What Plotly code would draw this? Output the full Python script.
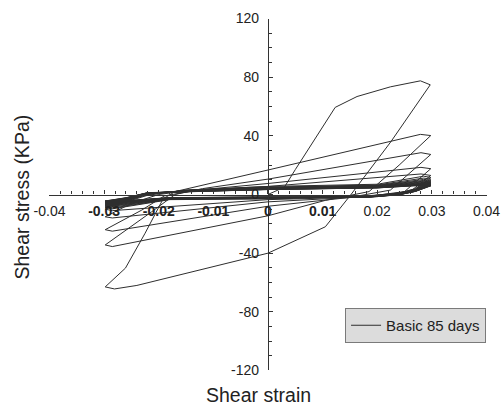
import plotly.graph_objects as go

# Cyclic shear test record: shear strain (-) vs shear stress (kPa)

# initial loading and first full cycle
c1_strain = [0.0000, 0.0030, 0.0050, 0.0123, 0.0163, 0.0224, 0.0279, 0.0297,
             0.0225, 0.0152, 0.0105, 0.0000, -0.0240, -0.0281, -0.0298]
c1_stress = [0.0, 5.0, 17.0, 59.4, 66.8, 73.4, 77.5, 74.8,
             36.0, 0.0, -22.0, -40.0, -62.0, -64.4, -63.0]

# second cycle
c2_strain = [-0.0261, -0.0225, -0.0192, -0.0170, -0.0100, 0.0000, 0.0279, 0.0298,
             0.0240, 0.0185, 0.0105, 0.0000, -0.0285, -0.0298]
c2_stress = [-50.2, -26.4, -3.0, 2.0, 7.9, 16.7, 41.0, 40.2,
             20.0, 2.0, -4.0, -14.5, -35.5, -34.4]

# third cycle
c3_strain = [-0.0213, -0.0170, -0.0120, 0.0000, 0.0280, 0.0298,
             0.0224, 0.0150, 0.0000, -0.0285, -0.0298]
c3_stress = [-11.8, 0.0, 4.0, 10.5, 28.5, 27.3,
             3.0, -2.0, -8.0, -25.0, -24.0]

# fourth cycle
c4_strain = [-0.0231, -0.0190, -0.0130, 0.0000, 0.0280, 0.0298,
             0.0250, 0.0180, 0.0000, -0.0285, -0.0298]
c4_stress = [-10.6, -1.0, 3.0, 7.5, 18.5, 17.6,
             2.0, -1.5, -5.0, -16.0, -15.2]

# fifth cycle
c5_strain = [-0.0250, -0.0200, -0.0140, 0.0000, 0.0280, 0.0298,
             0.0260, 0.0200, 0.0000, -0.0285, -0.0298]
c5_stress = [-6.0, 0.0, 3.0, 5.5, 14.0, 13.0,
             2.0, -1.5, -3.5, -11.0, -10.0]

# later, stabilised cycles (same strain path, decaying stress)
late_strain = [-0.0260, -0.0220, -0.0150, 0.0000, 0.0200, 0.0285, 0.0298,
               0.0270, 0.0240, 0.0180, 0.0000, -0.0180, -0.0285, -0.0298]
c6_stress = [-5.0, -0.5, 3.0, 5.5, 7.0, 12.5, 11.6, 4.0, 1.0, -1.0, -3.0, -3.5, -9.8, -9.0]
c7_stress = [-4.5, 0.0, 3.0, 5.0, 6.5, 11.2, 10.5, 3.8, 1.0, -1.2, -2.8, -3.3, -9.2, -8.5]
c8_stress = [-4.2, 0.2, 2.8, 4.8, 6.2, 10.3, 9.6, 3.5, 0.8, -1.3, -2.6, -3.2, -8.6, -8.0]
c9_stress = [-4.0, 0.3, 2.7, 4.5, 6.0, 9.6, 9.0, 3.3, 0.6, -1.4, -2.5, -3.0, -8.0, -7.5]
c10_stress = [-3.8, 0.5, 2.6, 4.3, 5.8, 9.1, 8.5, 3.1, 0.5, -1.5, -2.4, -2.9, -7.6, -7.0]
c11_stress = [-3.5, 0.6, 2.5, 4.1, 5.6, 8.6, 8.1, 3.0, 0.4, -1.5, -2.3, -2.8, -7.2, -6.6]
c12_stress = [-3.3, 0.7, 2.4, 4.0, 5.4, 8.2, 7.7, 2.8, 0.3, -1.6, -2.2, -2.7, -6.8, -6.2]
c13_stress = [-3.1, 0.8, 2.3, 3.9, 5.2, 7.8, 7.3, 2.7, 0.2, -1.6, -2.1, -2.6, -6.4, -5.8]
c14_stress = [-2.9, 0.9, 2.2, 3.8, 5.0, 7.5, 7.0, 2.6, 0.1, -1.7, -2.0, -2.5, -6.0, -5.4]
c15_stress = [-2.7, 1.0, 2.1, 3.7, 4.9, 7.2, 6.7, 2.5, 0.0, -1.7, -1.9, -2.4, -5.7, -5.1]
c16_stress = [-2.6, 1.1, 2.0, 3.6, 4.8, 7.0, 6.5, 2.4, 0.0, -1.8, -1.9, -2.3, -5.5, -4.9]
c17_stress = [-2.5, 1.1, 2.0, 3.5, 4.7, 6.8, 6.3, 2.3, -0.1, -1.8, -1.8, -2.3, -5.3, -4.7]
c18_stress = [-2.4, 1.2, 1.9, 3.5, 4.6, 6.6, 6.1, 2.2, -0.1, -1.8, -1.8, -2.2, -5.1, -4.5]
c19_stress = [-2.3, 1.2, 1.9, 3.4, 4.5, 6.4, 6.0, 2.2, -0.2, -1.9, -1.7, -2.2, -5.0, -4.4]
c20_stress = [-2.2, 1.3, 1.8, 3.4, 4.5, 6.3, 5.9, 2.1, -0.2, -1.9, -1.7, -2.1, -4.9, -4.3]

x_ticks = [-0.04, -0.03, -0.02, -0.01, 0.0, 0.01, 0.02, 0.03, 0.04]
x_labels = ["-0.04", "<b>-0.03</b>", "<b>-0.02</b>", "<b>-0.01</b>", "<b>0</b>",
            "<b>0.01</b>", "0.02", "0.03", "0.04"]
y_ticks = [-120, -80, -40, 0, 40, 80, 120]
y_labels = ["-120", "-80", "-40", "0", "40", "80", "120"]

strain = c1_strain + c2_strain + c3_strain + c4_strain + c5_strain
stress = c1_stress + c2_stress + c3_stress + c4_stress + c5_stress
for s in [c6_stress, c7_stress, c8_stress, c9_stress, c10_stress,
          c11_stress, c12_stress, c13_stress, c14_stress, c15_stress,
          c16_stress, c17_stress, c18_stress, c19_stress, c20_stress]:
    strain = strain + late_strain
    stress = stress + s

FONT = "Liberation Sans, Arial, Helvetica, sans-serif"
AXIS = "#333333"

fig = go.Figure()
fig.add_trace(go.Scatter(
    x=strain, y=stress, mode="lines", name="Basic 85 days",
    line=dict(color="#2e2e2e", width=1.0),
))

x_dom = [0.0984, 0.9672]
y_dom = [0.0852, 0.9543]

fig.update_layout(
    width=503, height=405,
    margin=dict(l=0, r=0, t=0, b=0),
    paper_bgcolor="white", plot_bgcolor="white",
    font=dict(family=FONT, size=14, color="#222222"),
    showlegend=True,
    legend=dict(
        x=0.686, y=0.2395, xanchor="left", yanchor="top",
        bgcolor="#dcdcdc", bordercolor="#7a7a7a", borderwidth=1,
        font=dict(family=FONT, size=15, color="#222222"),
    ),
    xaxis=dict(
        domain=x_dom, range=[-0.04, 0.04], automargin=False,
        anchor="free", position=sum(y_dom) / 2,
        showgrid=False, zeroline=False,
        showline=True, linecolor=AXIS, linewidth=1.3,
        tickvals=x_ticks, ticktext=x_labels,
        ticks="inside", ticklen=4, tickwidth=1, tickcolor=AXIS,
        ticklabelstandoff=4,
        minor=dict(dtick=0.002, tick0=0, ticks="inside", ticklen=3,
                   tickwidth=1, tickcolor=AXIS, showgrid=False),
        tickfont=dict(size=14, color="#222222"),
    ),
    yaxis=dict(
        domain=y_dom, range=[-120, 120], automargin=False,
        anchor="free", position=sum(x_dom) / 2, side="left",
        showgrid=False, zeroline=False,
        showline=True, linecolor=AXIS, linewidth=1.3,
        tickvals=y_ticks, ticktext=y_labels,
        ticks="inside", ticklen=4, tickwidth=1, tickcolor=AXIS,
        ticklabelstandoff=6,
        minor=dict(dtick=10, tick0=0, ticks="inside", ticklen=3,
                   tickwidth=1, tickcolor=AXIS, showgrid=False),
        tickfont=dict(size=14, color="#222222"),
    ),
    annotations=[
        dict(text="Shear strain", x=258 / 503, y=1 - 395 / 405,
             xref="paper", yref="paper", showarrow=False,
             xanchor="center", yanchor="middle",
             font=dict(family=FONT, size=19.5, color="#222222")),
        dict(text="Shear stress (KPa)", x=22 / 503, y=1 - 197.5 / 405,
             xref="paper", yref="paper", showarrow=False, textangle=-90,
             xanchor="center", yanchor="middle",
             font=dict(family=FONT, size=19.5, color="#222222")),
    ],
)

fig.write_html("out.html")
